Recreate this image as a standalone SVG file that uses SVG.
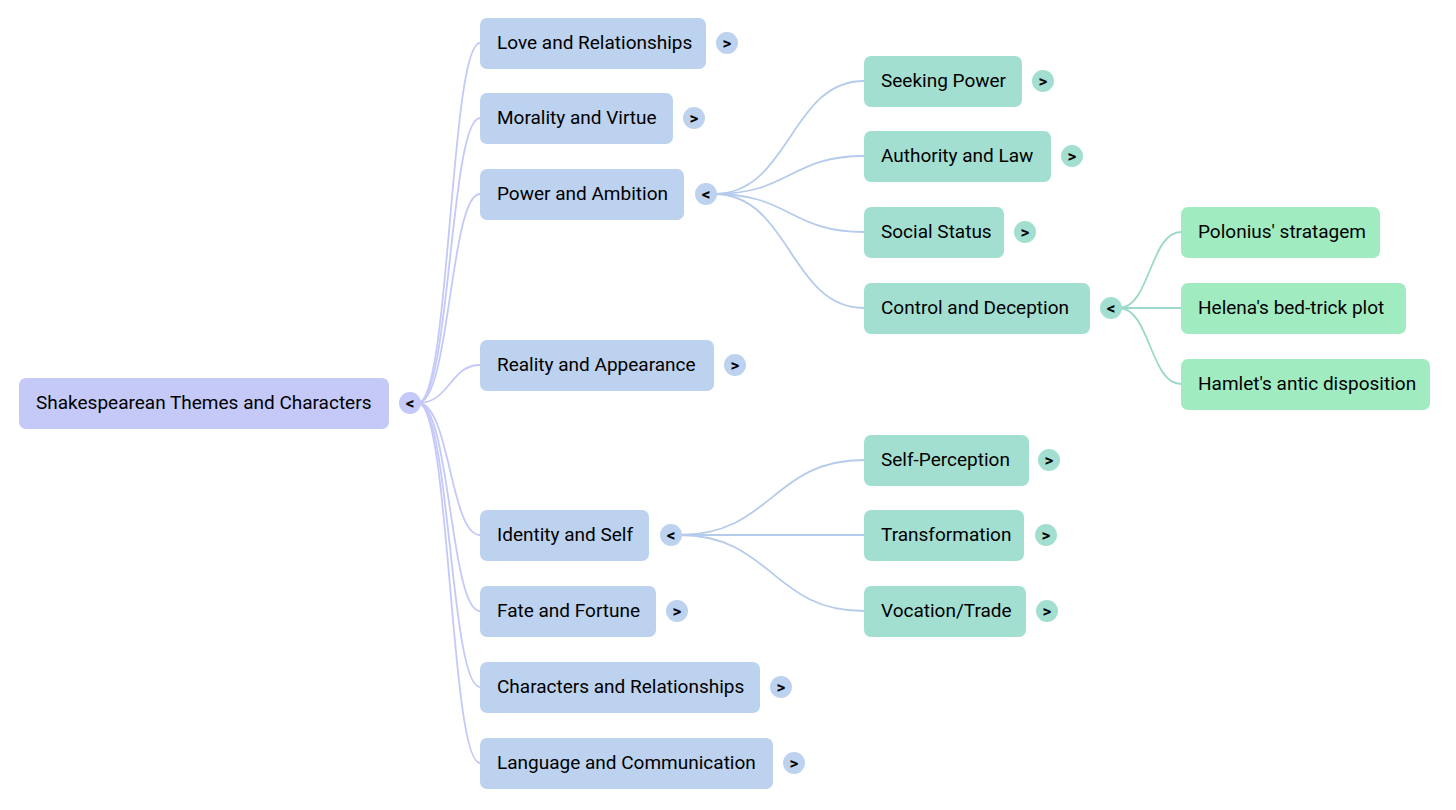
<svg xmlns="http://www.w3.org/2000/svg" width="1456" height="810" viewBox="0 0 1456 810">
<style>
text{font-family:Roboto,"Liberation Sans",sans-serif;fill:#000;}
.lbl{font-size:19px;dominant-baseline:central;}
.btn{font-size:17px;font-weight:bold;text-anchor:middle;dominant-baseline:central;}
.r0{fill:#C4C9F8;}
.r1{fill:#BDD2EE;}
.r2{fill:#A3DFD0;}
.r3{fill:#A0EBC0;}
.c0{fill:none;stroke:#C4C9F8;stroke-width:1.8;}
.c1{fill:none;stroke:#B5CBEB;stroke-width:1.8;}
.c2{fill:none;stroke:#9CD8C9;stroke-width:1.8;}
</style>
<rect width="1456" height="810" fill="#fff"/>
<g id="connectors">
<path class="c0" d="M418,403 C450,403 450,43 480,43"/>
<path class="c0" d="M418,403 C450,403 450,118 480,118"/>
<path class="c0" d="M418,403 C450,403 450,194 480,194"/>
<path class="c0" d="M418,403 C450,403 450,365 480,365"/>
<path class="c0" d="M418,403 C450,403 450,535 480,535"/>
<path class="c0" d="M418,403 C450,403 450,611 480,611"/>
<path class="c0" d="M418,403 C450,403 450,687 480,687"/>
<path class="c0" d="M418,403 C450,403 450,763 480,763"/>
<path class="c1" d="M714,194 C790,194 790,81 864,81"/>
<path class="c1" d="M714,194 C790,194 790,156 864,156"/>
<path class="c1" d="M714,194 C790,194 790,232 864,232"/>
<path class="c1" d="M714,194 C790,194 790,308 864,308"/>
<path class="c1" d="M679,535 C772,535 772,460 864,460"/>
<path class="c1" d="M679,535 L864,535"/>
<path class="c1" d="M679,535 C772,535 772,611 864,611"/>
<path class="c2" d="M1119,308 C1150,308 1150,232 1181,232"/>
<path class="c2" d="M1119,308 L1181,308"/>
<path class="c2" d="M1119,308 C1150,308 1150,384 1181,384"/>
</g>
<g id="root">
<rect class="r0" x="19" y="378" width="370" height="51" rx="7"/>
<text class="lbl" x="36" y="402">Shakespearean Themes and Characters</text>
<circle class="r0" cx="410" cy="403" r="11"/>
<text class="btn" x="410" y="403">&lt;</text>
</g>
<g id="n-love">
<rect class="r1" x="480" y="18" width="226" height="51" rx="7"/>
<text class="lbl" x="497" y="42">Love and Relationships</text>
<circle class="r1" cx="727" cy="43" r="11"/>
<text class="btn" x="727" y="43">&gt;</text>
</g>
<g id="n-morality">
<rect class="r1" x="480" y="93" width="193" height="51" rx="7"/>
<text class="lbl" x="497" y="117">Morality and Virtue</text>
<circle class="r1" cx="694" cy="118" r="11"/>
<text class="btn" x="694" y="118">&gt;</text>
</g>
<g id="n-power">
<rect class="r1" x="480" y="169" width="204" height="51" rx="7"/>
<text class="lbl" x="497" y="193">Power and Ambition</text>
<circle class="r1" cx="706" cy="194" r="11"/>
<text class="btn" x="706" y="194">&lt;</text>
</g>
<g id="n-reality">
<rect class="r1" x="480" y="340" width="234" height="51" rx="7"/>
<text class="lbl" x="497" y="364">Reality and Appearance</text>
<circle class="r1" cx="735" cy="365" r="11"/>
<text class="btn" x="735" y="365">&gt;</text>
</g>
<g id="n-identity">
<rect class="r1" x="480" y="510" width="169" height="51" rx="7"/>
<text class="lbl" x="497" y="534">Identity and Self</text>
<circle class="r1" cx="671" cy="535" r="11"/>
<text class="btn" x="671" y="535">&lt;</text>
</g>
<g id="n-fate">
<rect class="r1" x="480" y="586" width="176" height="51" rx="7"/>
<text class="lbl" x="497" y="610">Fate and Fortune</text>
<circle class="r1" cx="677" cy="611" r="11"/>
<text class="btn" x="677" y="611">&gt;</text>
</g>
<g id="n-characters">
<rect class="r1" x="480" y="662" width="280" height="51" rx="7"/>
<text class="lbl" x="497" y="686">Characters and Relationships</text>
<circle class="r1" cx="781" cy="687" r="11"/>
<text class="btn" x="781" y="687">&gt;</text>
</g>
<g id="n-language">
<rect class="r1" x="480" y="738" width="293" height="51" rx="7"/>
<text class="lbl" x="497" y="762">Language and Communication</text>
<circle class="r1" cx="794" cy="763" r="11"/>
<text class="btn" x="794" y="763">&gt;</text>
</g>
<g id="n-seeking">
<rect class="r2" x="864" y="56" width="158" height="51" rx="7"/>
<text class="lbl" x="881" y="80">Seeking Power</text>
<circle class="r2" cx="1043" cy="81" r="11"/>
<text class="btn" x="1043" y="81">&gt;</text>
</g>
<g id="n-authority">
<rect class="r2" x="864" y="131" width="187" height="51" rx="7"/>
<text class="lbl" x="881" y="155">Authority and Law</text>
<circle class="r2" cx="1072" cy="156" r="11"/>
<text class="btn" x="1072" y="156">&gt;</text>
</g>
<g id="n-social">
<rect class="r2" x="864" y="207" width="140" height="51" rx="7"/>
<text class="lbl" x="881" y="231">Social Status</text>
<circle class="r2" cx="1025" cy="232" r="11"/>
<text class="btn" x="1025" y="232">&gt;</text>
</g>
<g id="n-control">
<rect class="r2" x="864" y="283" width="226" height="51" rx="7"/>
<text class="lbl" x="881" y="307">Control and Deception</text>
<circle class="r2" cx="1111" cy="308" r="11"/>
<text class="btn" x="1111" y="308">&lt;</text>
</g>
<g id="n-selfperception">
<rect class="r2" x="864" y="435" width="165" height="51" rx="7"/>
<text class="lbl" x="881" y="459">Self-Perception</text>
<circle class="r2" cx="1049" cy="460" r="11"/>
<text class="btn" x="1049" y="460">&gt;</text>
</g>
<g id="n-transformation">
<rect class="r2" x="864" y="510" width="160" height="51" rx="7"/>
<text class="lbl" x="881" y="534">Transformation</text>
<circle class="r2" cx="1046" cy="535" r="11"/>
<text class="btn" x="1046" y="535">&gt;</text>
</g>
<g id="n-vocation">
<rect class="r2" x="864" y="586" width="162" height="51" rx="7"/>
<text class="lbl" x="881" y="610">Vocation/Trade</text>
<circle class="r2" cx="1047" cy="611" r="11"/>
<text class="btn" x="1047" y="611">&gt;</text>
</g>
<g id="n-polonius">
<rect class="r3" x="1181" y="207" width="199" height="51" rx="7"/>
<text class="lbl" x="1198" y="231">Polonius' stratagem</text>
</g>
<g id="n-helena">
<rect class="r3" x="1181" y="283" width="225" height="51" rx="7"/>
<text class="lbl" x="1198" y="307">Helena's bed-trick plot</text>
</g>
<g id="n-hamlet">
<rect class="r3" x="1181" y="359" width="249" height="51" rx="7"/>
<text class="lbl" x="1198" y="383">Hamlet's antic disposition</text>
</g>
</svg>
